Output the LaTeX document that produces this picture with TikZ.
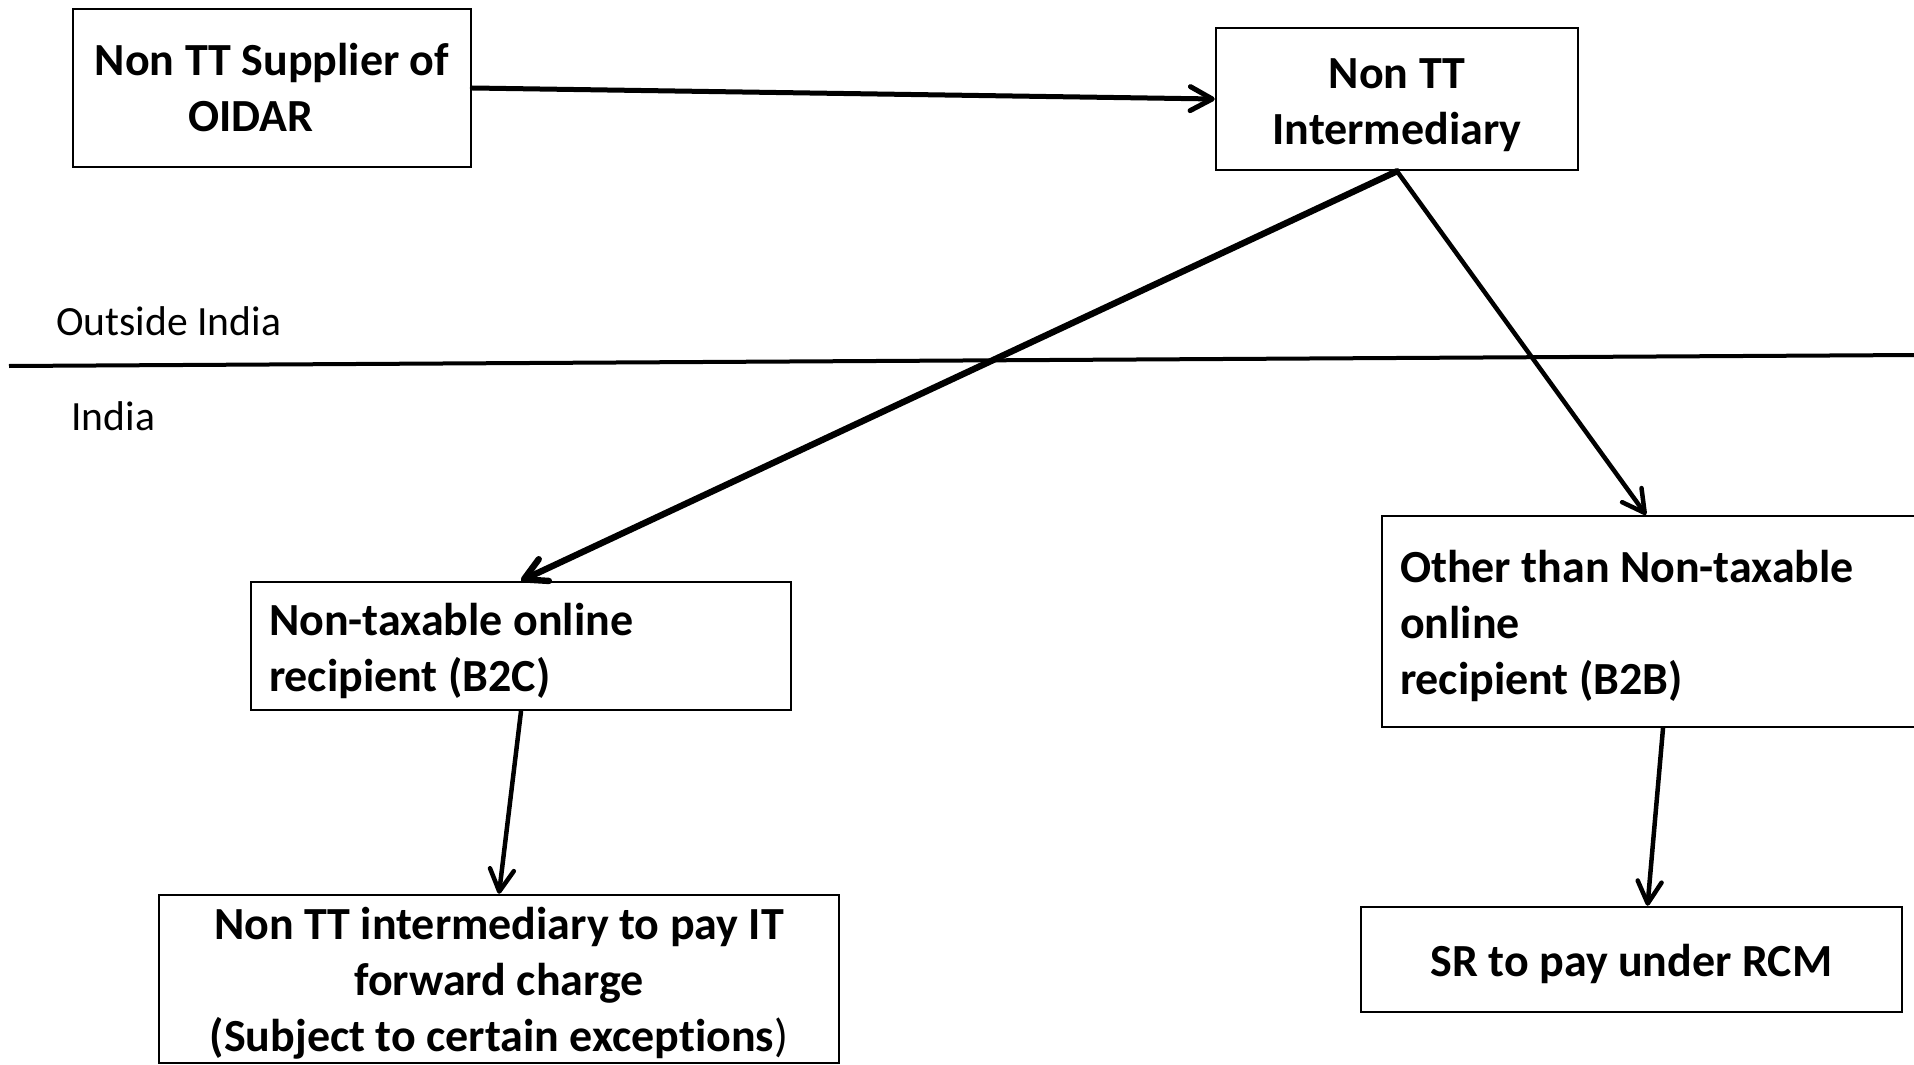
\documentclass[tikz,border=0pt]{standalone}
\usepackage{fontspec}
\setmainfont{Carlito}[Ligatures=NoCommon]
\usetikzlibrary{arrows.meta,calc}
% taller first line, so that each block of text sits a little lower in its box
\newcommand\firstlinestrut{\rule{0pt}{\dimexpr\fontcharht\font`d+4.5pt\relax}}
\begin{document}
\begin{tikzpicture}[x=0.5pt,y=-0.5pt,
  box/.style={draw=black,line width=1.25pt,inner sep=0pt,
    font=\fontsize{23}{28}\selectfont\bfseries},
  ctr/.style={box,align=center},
  lft/.style={box,align=flush left,inner xsep=9pt},
  link/.style={line width=2.25pt,line cap=round,
    -{Straight Barb[length=11pt,width=12pt,line cap=round,line join=round]}},
  widelink/.style={link,line width=2.5pt},
  heavylink/.style={link,line width=3.2pt},
  region/.style={font=\fontsize{20.8}{25}\selectfont,anchor=base west,inner sep=0pt}]
\useasboundingbox (0,0) rectangle (1914,1064);
\clip (0,0) rectangle (1914,1064);

% boundary between the two territories
\coordinate (lineL) at (9,366);
\coordinate (lineR) at (1916,355);
\draw[line width=2pt] (lineL) -- (lineR);
\node[region] (outside) at (56,335) {Outside India};
\node[region] (india) at (71,430) {India};

% parties and outcomes
\node[ctr,minimum width=199pt,minimum height=79pt] (supplier) at (272,88)
  {Non TT Supplier of\\OIDAR\hspace*{21pt}};
\node[ctr,minimum width=181pt,minimum height=71pt] (inter) at (1397,99)
  {\firstlinestrut Non TT\\Intermediary};
\node[lft,text width=252pt,minimum height=64pt] (btoc) at (521,646)
  {\firstlinestrut Non-taxable online\\recipient (B2C)};
\node[ctr,minimum width=340pt,minimum height=84pt] (fwd) at (499,979)
  {\firstlinestrut Non TT intermediary to pay IT\\forward charge\\(Subject to certain exceptions{\mdseries )}};
\node[lft,text width=249pt,minimum height=105.5pt] (btob) at (1649,621.5)
  {\firstlinestrut Other than Non-taxable\\online\\recipient (B2B)};
\node[ctr,minimum width=270.5pt,minimum height=52.5pt] (rcm) at (1631.5,959.5)
  {\firstlinestrut SR to pay under RCM};

% flows
\draw[widelink] (supplier.east) -- (inter.west);
\draw[heavylink] (inter.south) -- (btoc.north);
\draw[link] (inter.south) -- ($(btob.north)+(-3,0)$);
\draw[link] (btoc.south) -- (fwd.north);
\draw[link] ($(btob.south)+(14,0)$) -- ($(rcm.north)+(16,0)$);
\end{tikzpicture}
\end{document}
